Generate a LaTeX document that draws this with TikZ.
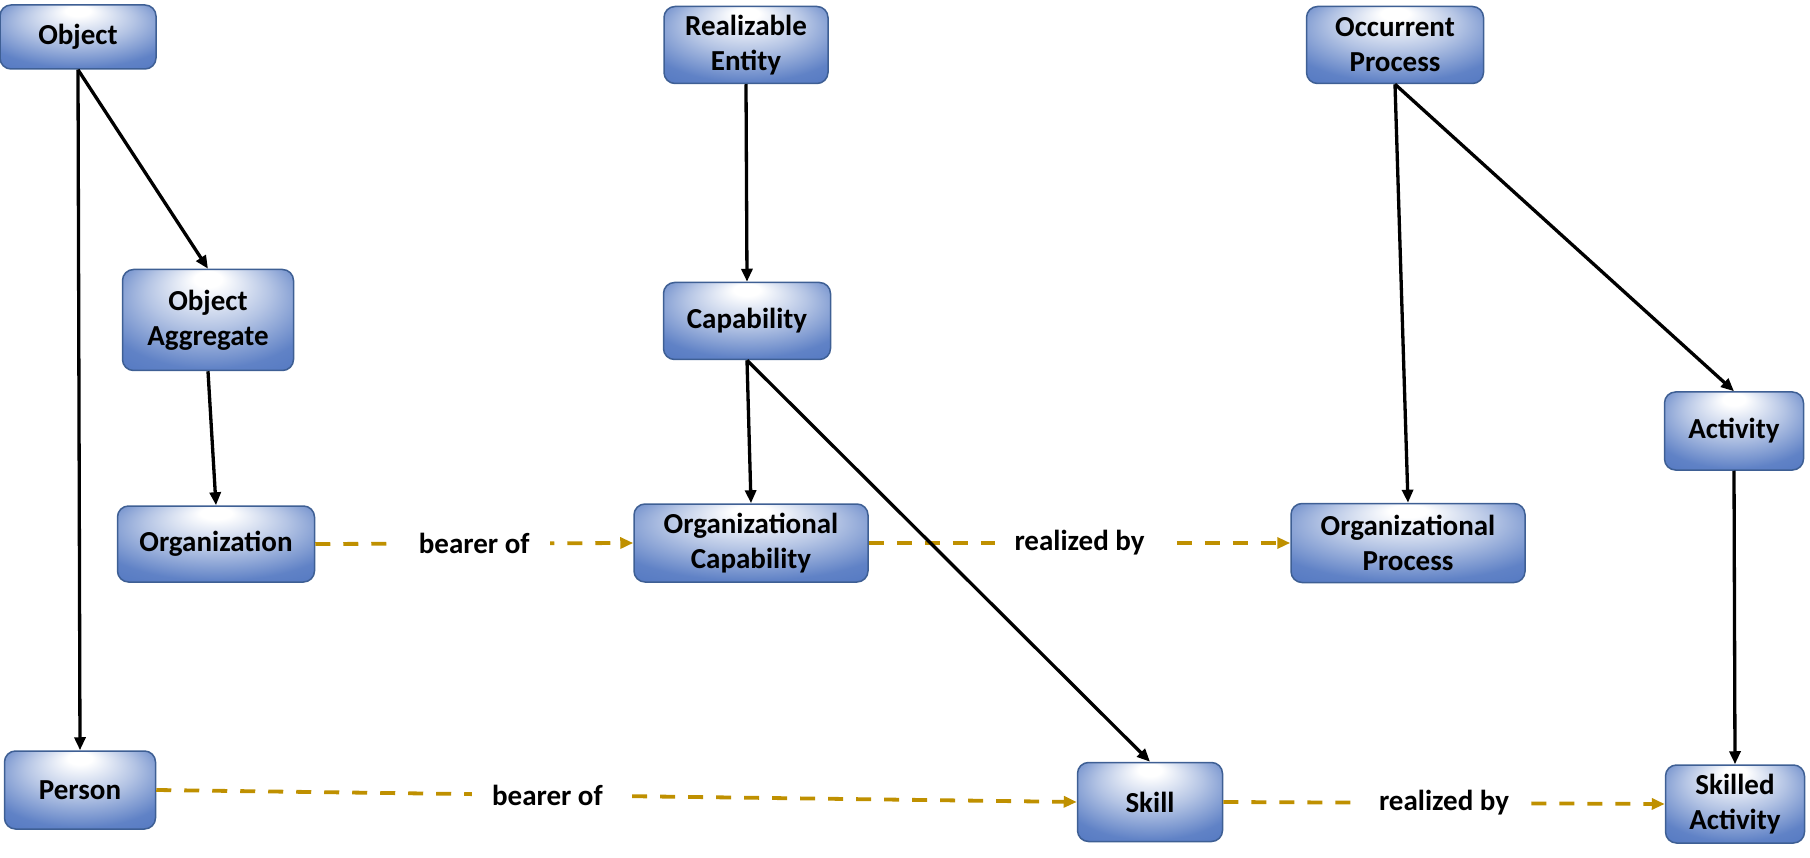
\documentclass[tikz,border=0pt]{standalone}
\usepackage{fontspec}
\setmainfont{Carlito}
\usetikzlibrary{arrows.meta}
\definecolor{nodeblue}{RGB}{68,108,188}
\definecolor{nodeborder}{RGB}{62,95,148}
\definecolor{gold}{RGB}{191,144,0}
\pgfdeclareradialshading{boxshade}{\pgfpoint{0bp}{22bp}}{color(0bp)=(white); color(4bp)=(white); color(18bp)=(nodeblue!40!white); color(32bp)=(nodeblue!85!white); color(50bp)=(nodeblue)}
\begin{document}
\begin{tikzpicture}[x=1pt,y=-1pt,
 box/.style={draw=nodeborder, line width=1.5pt, rounded corners=11pt, shading=boxshade, align=center, inner sep=0pt, font=\fontsize{29}{35}\selectfont\bfseries},
 isa/.style={-{Triangle[length=13pt,width=11pt]}, line width=3.3pt, black},
 rel/.style={-{Triangle[length=13pt,width=11pt]}, line width=3.8pt, gold, dash pattern=on 15pt off 13pt},
 lbl/.style={fill=white, inner xsep=20pt, inner ysep=2pt, text=black, font=\fontsize{29}{35}\selectfont\bfseries}]
\useasboundingbox (0,0) rectangle (1810,858);

\node[box, minimum width=156pt, minimum height=64pt] (obj) at (78,37) {Object};
\node[box, minimum width=164pt, minimum height=77pt] (real) at (746,45) {Realizable\\Entity};
\node[box, minimum width=177pt, minimum height=77pt] (occ) at (1395,45) {Occurrent\\Process};
\node[box, minimum width=171pt, minimum height=101pt] (agg) at (208,320) {Object\\Aggregate};
\node[box, minimum width=167pt, minimum height=77pt] (cap) at (747,321) {Capability};
\node[box, minimum width=139pt, minimum height=78pt] (act) at (1734,431) {Activity};
\node[box, minimum width=197pt, minimum height=76pt] (org) at (216,544) {Organization};
\node[box, minimum width=234pt, minimum height=78pt] (orgcap) at (751,543) {Organizational\\Capability};
\node[box, minimum width=234pt, minimum height=79pt] (orgproc) at (1408,543) {Organizational\\Process};
\node[box, minimum width=151pt, minimum height=78pt] (person) at (80,790) {Person};
\node[box, minimum width=145pt, minimum height=79pt] (skill) at (1150,802) {Skill};
\node[box, minimum width=139pt, minimum height=78pt] (skact) at (1735,804) {Skilled\\Activity};

\draw[rel] (orgcap.east) -- node[lbl]{realized by} (orgproc.west);

\draw[isa] (obj.south) -- (person.north);
\draw[isa] (obj.south) -- (agg.north);
\draw[isa] (agg.south) -- (org.north);
\draw[isa] (real.south) -- (cap.north);
\draw[isa] (cap.south) -- (orgcap.north);
\draw[isa] (cap.south) -- (skill.north);
\draw[isa] (occ.south) -- (act.north);
\draw[isa] (occ.south) -- (orgproc.north);
\draw[isa] (act.south) -- (skact.north);

\draw[rel] (org.east) -- node[lbl]{bearer of} (orgcap.west);
\draw[rel] (person.east) -- node[lbl, pos=0.425]{bearer of} (skill.west);
\draw[rel] (skill.east) -- node[lbl]{realized by} (skact.west);
\end{tikzpicture}
\end{document}
